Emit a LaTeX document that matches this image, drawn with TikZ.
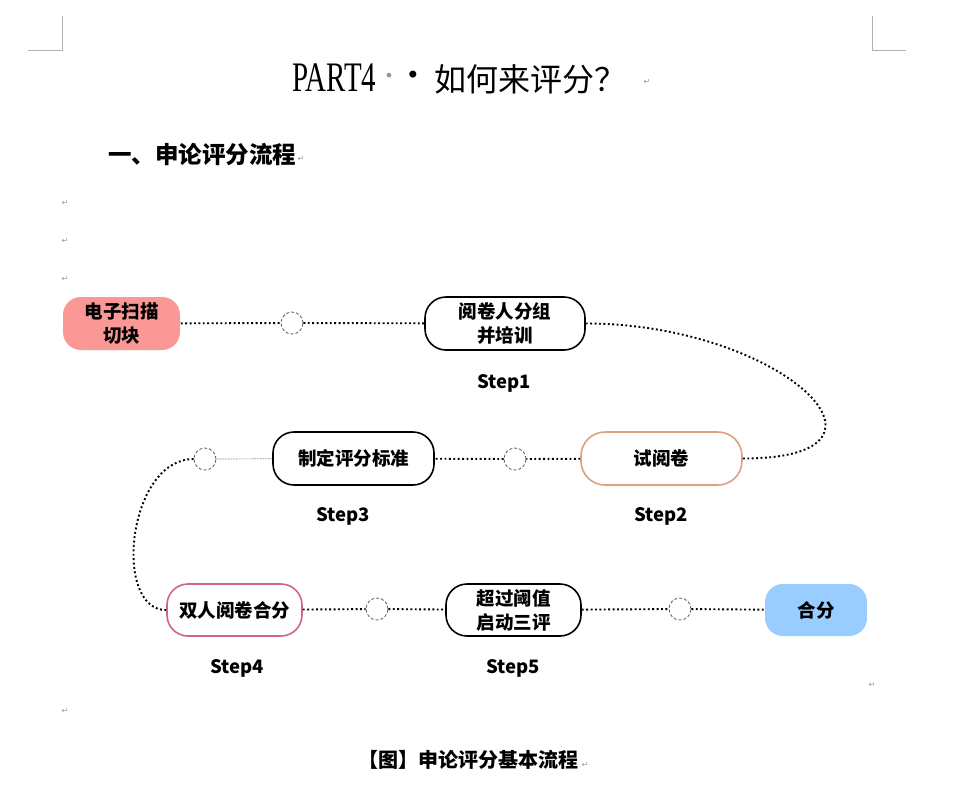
\documentclass[tikz,border=0pt]{standalone}
\usepackage{fontspec}
\usepackage{graphicx}
\setmainfont{Liberation Serif}
\newfontfamily\cjk{Noto Sans CJK SC}
\newfontfamily\symf{DejaVu Sans}
\definecolor{pinkfill}{RGB}{250,152,150}
\definecolor{bluefill}{RGB}{153,204,255}
\definecolor{orangeline}{RGB}{222,160,128}
\definecolor{roseline}{RGB}{210,100,128}
\definecolor{markgray}{RGB}{150,150,150}
\begin{document}
\begin{tikzpicture}[x=1pt,y=-1pt,
  box/.style={rounded corners=21pt, minimum height=53pt, inner sep=0pt, align=center,
    line width=1.6pt, font=\cjk\bfseries\fontsize{18.5}{24}\selectfont},
  ring/.style={circle, minimum size=22pt, inner sep=0pt, draw=black!65, fill=white,
    line width=0.8pt, dash pattern=on 3pt off 2pt},
  conn/.style={line width=1.9pt, dash pattern=on 1.9pt off 2.5pt},
  fineconn/.style={line width=0.7pt, draw=black!55, dash pattern=on 0.8pt off 0.8pt},
  steplabel/.style={font=\cjk\bfseries\fontsize{18.5}{18.5}\selectfont, inner sep=0pt},
  retmark/.style={font=\symf\fontsize{8}{8}\selectfont, text=markgray, inner sep=0pt},
  corner/.style={draw=black!30, line width=0.8pt}]
\path[use as bounding box, fill=white] (0,0) rectangle (974,796);

% page corner marks
\coordinate (tl1) at (62,16); \coordinate (tl2) at (62,50); \coordinate (tl3) at (28,50);
\coordinate (tr1) at (872,16); \coordinate (tr2) at (872,50); \coordinate (tr3) at (906,50);
\draw[corner] (tl1) -- (tl2) -- (tl3);
\draw[corner] (tr1) -- (tr2) -- (tr3);

% title
\node[anchor=base west, inner sep=0pt, font=\fontsize{42}{42}\selectfont] (tpart) at (292,91) {\scalebox{0.69}[1]{PART4}};
\node[inner sep=0pt, font=\symf\fontsize{16}{16}\selectfont, text=markgray] (tdot1) at (389,77) {•};
\node[inner sep=0pt, font=\symf\fontsize{24}{24}\selectfont] (tdot2) at (413,77) {•};
\node[anchor=base west, inner sep=0pt, font=\cjk\fontsize{32}{32}\selectfont] (ttext) at (434,91) {如何来评分？};
\node[retmark] (r0) at (647,82) {↵};

% heading
\node[anchor=base west, inner sep=0pt, font=\cjk\bfseries\fontsize{23.5}{23.5}\selectfont] (head) at (108,163) {一、申论评分流程};
\node[retmark] (r1) at (301,159) {↵};
\node[retmark] (r2) at (65,203) {↵};
\node[retmark] (r3) at (65,241) {↵};
\node[retmark] (r4) at (65,279) {↵};
\node[retmark] (r5) at (65,711) {↵};
\node[retmark] (r6) at (872,685) {↵};

% flow nodes
\node[box, fill=pinkfill, rounded corners=18pt, minimum width=117pt] (n0) at (121.5,323.5) {电子扫描\\切块};
\node[box, draw=black, minimum width=160pt] (n1) at (505,323.5) {阅卷人分组\\并培训};
\node[box, draw=orangeline, minimum width=161pt, rounded corners=24pt] (n2) at (661.5,458.5) {试阅卷};
\node[box, draw=black, minimum width=161pt] (n3) at (353.5,458.5) {制定评分标准};
\node[box, draw=roseline, minimum width=135pt, minimum height=52pt] (n4) at (234.5,610) {双人阅卷合分};
\node[box, draw=black, minimum width=135pt, minimum height=52pt] (n5) at (513.5,610) {超过阈值\\启动三评};
\node[box, fill=bluefill, minimum width=102pt, minimum height=52pt, rounded corners=18pt] (n6) at (816,610) {合分};

% rings
\node[ring] (c1) at (292,323) {};
\node[ring] (c2) at (515,459) {};
\node[ring] (c3) at (205,459) {};
\node[ring] (c4) at (377,609) {};
\node[ring] (c5) at (680,609) {};

% step labels
\node[steplabel] (s1) at (504,383) {Step1};
\node[steplabel] (s2) at (661,516) {Step2};
\node[steplabel] (s3) at (343,516) {Step3};
\node[steplabel] (s4) at (237,668) {Step4};
\node[steplabel] (s5) at (513,668) {Step5};

% connectors
\draw[conn] (n0) -- (c1);
\draw[conn] (c1) -- (n1);
\draw[conn] (n1.east) .. controls +(195,0) and +(180,0) .. (n2.east);
\draw[conn] (n2) -- (c2);
\draw[conn] (c2) -- (n3);
\draw[fineconn] (n3) -- (c3);
\draw[conn] (c3.west) .. controls +(-66,0) and +(-54,0) .. (n4.west);
\draw[conn] (n4) -- (c4);
\draw[conn] (c4) -- (n5);
\draw[conn] (n5) -- (c5);
\draw[conn] (c5) -- (n6);

% caption
\node[anchor=base west, inner sep=0pt, font=\cjk\bfseries\fontsize{20}{20}\selectfont] (cap) at (358,767) {【图】申论评分基本流程};
\node[retmark] (r7) at (585,765) {↵};
\end{tikzpicture}
\end{document}
